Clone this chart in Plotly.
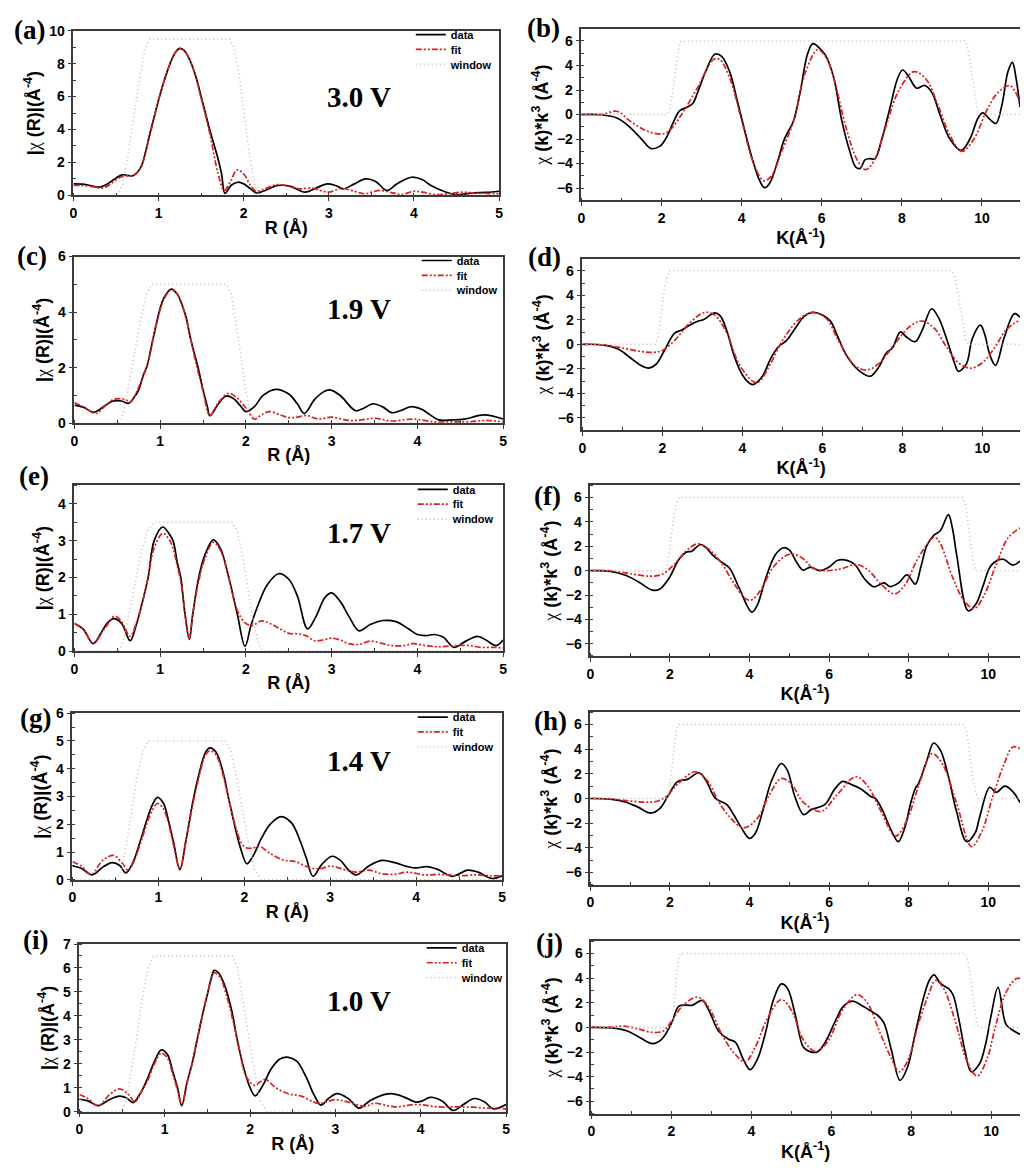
import plotly.graph_objects as go

# ---------------- data: R-space panels (a, c, e, g, i) ----------------
a_data_R = [0, 0.1, 0.2, 0.3, 0.4, 0.5, 0.57, 0.63, 0.7, 0.75, 0.8, 0.85, 0.9, 0.95, 1.0, 1.05, 1.1, 1.15, 1.2, 1.25, 1.3, 1.35, 1.4, 1.45, 1.5, 1.55, 1.6, 1.65, 1.7, 1.74, 1.78, 1.85, 1.93, 2.0, 2.08, 2.15, 2.25, 2.4, 2.55, 2.72, 2.85, 2.98, 3.08, 3.17, 3.3, 3.43, 3.55, 3.68, 3.8, 3.97, 4.1, 4.2, 4.35, 4.5, 4.7, 4.85, 5.0]
a_data = [0.7, 0.68, 0.6, 0.5, 0.7, 1.05, 1.25, 1.22, 1.2, 1.4, 1.8, 2.7, 3.8, 4.8, 5.8, 6.7, 7.5, 8.2, 8.7, 8.93, 8.8, 8.4, 7.8, 7.0, 6.0, 5.0, 4.0, 3.1, 2.2, 1.3, 0.12, 0.6, 0.8, 0.7, 0.4, 0.15, 0.3, 0.6, 0.55, 0.2, 0.45, 0.7, 0.6, 0.4, 0.7, 1.0, 0.85, 0.3, 0.7, 1.1, 0.95, 0.6, 0.25, 0.05, 0.15, 0.18, 0.25]
a_fit_R = [0, 0.1, 0.2, 0.35, 0.45, 0.55, 0.62, 0.7, 0.75, 0.8, 0.9, 1.0, 1.1, 1.2, 1.25, 1.3, 1.4, 1.5, 1.6, 1.7, 1.77, 1.85, 1.92, 2.0, 2.08, 2.15, 2.25, 2.38, 2.5, 2.65, 2.8, 2.9, 3.0, 3.15, 3.3, 3.42, 3.6, 3.75, 3.85, 4.0, 4.1, 4.25, 4.4, 4.55, 4.7, 4.85, 5.0]
a_fit = [0.6, 0.6, 0.55, 0.45, 0.75, 1.1, 1.18, 1.2, 1.4, 1.8, 3.7, 5.8, 7.5, 8.7, 8.9, 8.8, 7.8, 5.9, 3.8, 1.3, 0.3, 0.9, 1.55, 1.3, 0.6, 0.25, 0.4, 0.65, 0.6, 0.4, 0.45, 0.3, 0.2, 0.42, 0.25, 0.1, 0.3, 0.15, 0.05, 0.25, 0.2, 0.05, 0.1, 0.2, 0.15, 0.12, 0.1]
a_win_R = [0, 0.52, 0.58, 0.64, 0.71, 0.78, 0.84, 0.9, 1.83, 1.89, 1.95, 2.01, 2.07, 2.13, 2.18, 5]
a_win = [0, 0, 0.7, 2.4, 4.8, 7.2, 8.9, 9.5, 9.5, 8.9, 7.2, 4.8, 2.4, 0.7, 0, 0]

c_data_R = [0, 0.1, 0.23, 0.35, 0.45, 0.55, 0.63, 0.7, 0.75, 0.8, 0.85, 0.9, 0.95, 1.0, 1.05, 1.13, 1.2, 1.25, 1.3, 1.35, 1.4, 1.45, 1.5, 1.55, 1.58, 1.68, 1.77, 1.85, 1.93, 2.0, 2.1, 2.2, 2.35, 2.5, 2.6, 2.68, 2.8, 2.9, 2.98, 3.1, 3.28, 3.38, 3.48, 3.6, 3.7, 3.8, 3.93, 4.05, 4.15, 4.25, 4.4, 4.55, 4.78, 5.0]
c_data = [0.65, 0.58, 0.4, 0.62, 0.8, 0.8, 0.72, 0.95, 1.2, 1.7, 2.1, 2.8, 3.5, 4.15, 4.55, 4.83, 4.65, 4.3, 3.85, 3.1, 2.5, 1.9, 1.2, 0.6, 0.27, 0.7, 0.98, 0.9, 0.65, 0.42, 0.6, 1.0, 1.22, 1.05, 0.7, 0.35, 0.85, 1.12, 1.2, 1.0, 0.45, 0.55, 0.7, 0.58, 0.38, 0.45, 0.6, 0.5, 0.3, 0.12, 0.12, 0.15, 0.3, 0.15]
c_fit_R = [0, 0.1, 0.25, 0.35, 0.45, 0.55, 0.6, 0.65, 0.75, 0.85, 0.95, 1.05, 1.13, 1.2, 1.3, 1.4, 1.5, 1.58, 1.68, 1.8, 1.9, 2.0, 2.1, 2.18, 2.27, 2.4, 2.5, 2.6, 2.7, 2.85, 3.0, 3.2, 3.35, 3.5, 3.7, 3.95, 4.2, 4.4, 4.6, 4.8, 5.0]
c_fit = [0.75, 0.6, 0.35, 0.6, 0.85, 0.88, 0.85, 0.75, 1.3, 2.1, 3.5, 4.5, 4.8, 4.65, 3.8, 2.4, 1.15, 0.28, 0.75, 1.08, 0.9, 0.55, 0.15, 0.3, 0.42, 0.3, 0.2, 0.22, 0.28, 0.15, 0.22, 0.1, 0.12, 0.18, 0.08, 0.15, 0.05, 0.05, 0.05, 0.1, 0.05]
c_win_R = [0, 0.51, 0.57, 0.63, 0.7, 0.77, 0.84, 0.9, 1.77, 1.83, 1.88, 1.94, 1.99, 2.05, 2.1, 5]
c_win = [0, 0, 0.35, 1.3, 2.5, 3.7, 4.65, 5.0, 5.0, 4.65, 3.7, 2.5, 1.3, 0.35, 0, 0]

e_data_R = [0, 0.1, 0.22, 0.3, 0.38, 0.46, 0.55, 0.65, 0.72, 0.8, 0.86, 0.93, 1.03, 1.1, 1.15, 1.2, 1.24, 1.29, 1.34, 1.38, 1.45, 1.52, 1.62, 1.7, 1.8, 1.9, 1.99, 2.06, 2.15, 2.25, 2.38, 2.5, 2.6, 2.72, 2.82, 2.92, 3.0, 3.1, 3.2, 3.32, 3.45, 3.6, 3.75, 3.9, 4.0, 4.1, 4.2, 4.3, 4.43, 4.55, 4.7, 4.8, 4.92, 5.0]
e_data = [0.75, 0.6, 0.2, 0.45, 0.75, 0.88, 0.75, 0.28, 0.7, 1.4, 2.0, 3.0, 3.37, 3.2, 3.0, 2.4, 2.0, 1.0, 0.32, 1.0, 2.0, 2.6, 3.02, 2.8, 2.0, 1.0, 0.13, 0.7, 1.3, 1.8, 2.1, 1.95, 1.5, 0.6, 0.95, 1.45, 1.58, 1.35, 0.95, 0.55, 0.72, 0.83, 0.8, 0.6, 0.45, 0.42, 0.45, 0.38, 0.1, 0.25, 0.4, 0.3, 0.15, 0.3]
e_fit_R = [0, 0.1, 0.22, 0.35, 0.47, 0.55, 0.65, 0.72, 0.8, 0.86, 0.93, 1.03, 1.1, 1.15, 1.2, 1.24, 1.29, 1.34, 1.38, 1.45, 1.52, 1.62, 1.7, 1.8, 1.9, 2.0, 2.08, 2.18, 2.28, 2.4, 2.5, 2.6, 2.7, 2.8, 2.9, 3.0, 3.1, 3.2, 3.32, 3.45, 3.6, 3.7, 3.85, 3.95, 4.1, 4.2, 4.3, 4.45, 4.6, 4.75, 4.9, 5.0]
e_fit = [0.75, 0.6, 0.22, 0.6, 0.95, 0.8, 0.4, 0.75, 1.4, 2.0, 2.8, 3.2, 3.05, 2.8, 2.3, 1.9, 1.0, 0.35, 1.0, 1.9, 2.5, 2.95, 2.75, 2.0, 1.1, 0.75, 0.7, 0.82, 0.75, 0.6, 0.48, 0.47, 0.42, 0.28, 0.3, 0.35, 0.3, 0.2, 0.18, 0.27, 0.2, 0.15, 0.15, 0.2, 0.15, 0.12, 0.12, 0.15, 0.15, 0.1, 0.1, 0.08]
e_win_R = [0, 0.51, 0.57, 0.63, 0.7, 0.77, 0.85, 0.93, 1.84, 1.9, 1.96, 2.02, 2.08, 2.14, 2.19, 5]
e_win = [0, 0, 0.25, 0.9, 1.75, 2.6, 3.25, 3.5, 3.5, 3.25, 2.6, 1.75, 0.9, 0.25, 0, 0]

g_data_R = [0, 0.1, 0.23, 0.35, 0.46, 0.55, 0.62, 0.7, 0.8, 0.86, 0.93, 0.99, 1.06, 1.12, 1.18, 1.25, 1.32, 1.4, 1.48, 1.55, 1.6, 1.67, 1.75, 1.82, 1.9, 1.96, 2.03, 2.1, 2.2, 2.3, 2.43, 2.55, 2.65, 2.72, 2.8, 2.9, 3.02, 3.12, 3.2, 3.3, 3.45, 3.6, 3.75, 3.9, 4.0, 4.12, 4.25, 4.42, 4.6, 4.72, 4.88, 5.0]
g_data = [0.5, 0.42, 0.18, 0.45, 0.62, 0.52, 0.25, 0.6, 1.5, 2.1, 2.7, 2.97, 2.75, 2.1, 1.3, 0.37, 1.4, 2.8, 3.9, 4.6, 4.75, 4.6, 3.9, 2.9, 1.8, 1.1, 0.58, 0.85, 1.5, 2.0, 2.28, 2.05, 1.4, 0.8, 0.13, 0.55, 0.85, 0.7, 0.4, 0.18, 0.5, 0.7, 0.62, 0.48, 0.43, 0.48, 0.38, 0.13, 0.35, 0.28, 0.05, 0.15]
g_fit_R = [0, 0.1, 0.22, 0.35, 0.48, 0.58, 0.65, 0.72, 0.8, 0.9, 0.99, 1.06, 1.12, 1.18, 1.25, 1.32, 1.4, 1.48, 1.55, 1.6, 1.67, 1.75, 1.82, 1.9, 1.97, 2.03, 2.1, 2.18, 2.3, 2.45, 2.6, 2.75, 2.88, 3.0, 3.15, 3.3, 3.45, 3.6, 3.75, 3.9, 4.1, 4.3, 4.5, 4.7, 4.85, 5.0]
g_fit = [0.65, 0.5, 0.2, 0.7, 0.88, 0.6, 0.35, 0.7, 1.4, 2.3, 2.75, 2.55, 2.0, 1.2, 0.4, 1.4, 2.7, 3.8, 4.5, 4.65, 4.5, 3.8, 2.9, 1.9, 1.3, 1.15, 1.15, 1.2, 0.95, 0.72, 0.65, 0.45, 0.4, 0.5, 0.38, 0.28, 0.35, 0.22, 0.2, 0.28, 0.18, 0.2, 0.15, 0.18, 0.15, 0.15]
g_win_R = [0, 0.51, 0.57, 0.63, 0.69, 0.75, 0.82, 0.88, 1.78, 1.84, 1.91, 1.98, 2.05, 2.12, 2.2, 5]
g_win = [0, 0, 0.35, 1.3, 2.5, 3.7, 4.65, 5.0, 5.0, 4.65, 3.7, 2.5, 1.3, 0.35, 0, 0]

i_data_R = [0, 0.1, 0.22, 0.35, 0.47, 0.55, 0.63, 0.72, 0.8, 0.88, 0.96, 1.03, 1.1, 1.15, 1.2, 1.26, 1.32, 1.38, 1.44, 1.5, 1.54, 1.58, 1.63, 1.7, 1.78, 1.85, 1.92, 2.0, 2.06, 2.15, 2.25, 2.35, 2.45, 2.55, 2.65, 2.75, 2.83, 2.92, 3.02, 3.15, 3.28, 3.4, 3.52, 3.65, 3.8, 3.94, 4.02, 4.11, 4.25, 4.38, 4.5, 4.63, 4.75, 4.85, 5.0]
i_data = [0.52, 0.45, 0.25, 0.5, 0.65, 0.58, 0.38, 0.8, 1.4, 2.1, 2.58, 2.4, 1.6, 1.0, 0.25, 1.2, 2.0, 3.0, 4.0, 4.9, 5.5, 5.9, 5.8, 5.3, 4.3, 3.0, 1.9, 1.0, 0.66, 1.1, 1.8, 2.2, 2.27, 2.1, 1.5, 0.7, 0.27, 0.55, 0.75, 0.55, 0.15, 0.45, 0.65, 0.75, 0.62, 0.4, 0.45, 0.6, 0.45, 0.05, 0.3, 0.55, 0.4, 0.12, 0.3]
i_fit_R = [0, 0.1, 0.22, 0.35, 0.47, 0.58, 0.65, 0.72, 0.8, 0.88, 0.96, 1.03, 1.1, 1.15, 1.2, 1.26, 1.32, 1.38, 1.44, 1.5, 1.58, 1.65, 1.72, 1.8, 1.88, 1.95, 2.05, 2.12, 2.18, 2.3, 2.45, 2.6, 2.8, 3.0, 3.15, 3.35, 3.45, 3.7, 3.95, 4.2, 4.5, 4.8, 5.0]
i_fit = [0.72, 0.55, 0.25, 0.7, 0.95, 0.7, 0.4, 0.8, 1.3, 2.0, 2.45, 2.25, 1.5, 0.9, 0.25, 1.2, 2.0, 3.0, 4.0, 4.9, 5.8, 5.6, 4.9, 3.8, 2.5, 1.5, 1.1, 1.25, 1.35, 1.0, 0.75, 0.65, 0.35, 0.5, 0.4, 0.22, 0.35, 0.2, 0.3, 0.2, 0.2, 0.15, 0.12]
i_win_R = [0, 0.49, 0.55, 0.61, 0.68, 0.74, 0.81, 0.87, 1.79, 1.85, 1.91, 1.98, 2.05, 2.12, 2.2, 5]
i_win = [0, 0, 0.45, 1.7, 3.25, 4.8, 6.05, 6.5, 6.5, 6.05, 4.8, 3.25, 1.7, 0.45, 0, 0]

# ---------------- data: k-space panels (b, d, f, h, j) ----------------
b_data_K = [0, 0.5, 0.9, 1.2, 1.5, 1.73, 1.95, 2.1, 2.3, 2.45, 2.64, 2.78, 2.9, 3.1, 3.33, 3.5, 3.7, 3.9, 4.1, 4.3, 4.45, 4.57, 4.7, 4.9, 5.06, 5.3, 5.47, 5.65, 5.78, 5.95, 6.1, 6.3, 6.5, 6.7, 6.85, 6.96, 7.08, 7.2, 7.33, 7.5, 7.7, 7.9, 8.02, 8.15, 8.37, 8.57, 8.75, 8.95, 9.2, 9.48, 9.7, 9.9, 10.02, 10.2, 10.35, 10.5, 10.65, 10.76, 10.85, 10.95]
b_data = [0, -0.02, -0.3, -1.0, -2.0, -2.77, -2.6, -2.0, -0.6, 0.3, 0.6, 0.9, 1.8, 3.5, 4.92, 4.75, 3.5, 1.0, -1.6, -4.0, -5.4, -5.97, -5.6, -3.8, -2.07, -0.46, 2.0, 5.0, 5.78, 5.4, 4.8, 3.0, -0.5, -3.0, -4.3, -4.4, -3.7, -3.6, -3.6, -2.0, 0.5, 3.0, 3.63, 3.2, 2.15, 2.37, 1.8, 0.0, -2.0, -2.93, -2.0, -0.3, 0.13, -0.4, -0.73, 0.8, 3.5, 4.25, 3.0, 0.6]
b_fit_K = [0, 0.5, 0.9, 1.2, 1.6, 2.0, 2.2, 2.5, 2.9, 3.3, 3.45, 3.7, 4.0, 4.3, 4.55, 4.75, 5.0, 5.3, 5.6, 5.9, 6.1, 6.3, 6.6, 6.9, 7.1, 7.3, 7.6, 7.9, 8.3, 8.6, 8.9, 9.2, 9.5, 9.8, 10.1, 10.4, 10.7, 10.95]
b_fit = [0, 0.02, 0.25, -0.5, -1.3, -1.6, -1.3, 0.0, 2.2, 4.5, 4.5, 3.0, -0.5, -4.0, -5.4, -5.0, -3.0, -0.5, 3.5, 5.3, 4.7, 3.0, -1.0, -3.8, -4.5, -3.8, -1.0, 1.8, 3.5, 2.9, 0.8, -1.7, -3.0, -2.0, 0.2, 1.8, 2.35, 1.0]
b_win_K = [0, 2.15, 2.2, 2.26, 2.32, 2.38, 2.44, 2.48, 9.58, 9.63, 9.7, 9.76, 9.82, 9.88, 9.93, 10.95]
b_win = [0, 0, 0.4, 1.5, 3.0, 4.5, 5.6, 6, 6, 5.6, 4.5, 3.0, 1.5, 0.4, 0, 0]

d_data_K = [0, 0.5, 0.9, 1.2, 1.45, 1.66, 1.85, 2.05, 2.3, 2.48, 2.7, 2.9, 3.02, 3.31, 3.45, 3.6, 3.8, 4.0, 4.15, 4.26, 4.5, 4.7, 4.9, 5.1, 5.3, 5.55, 5.75, 6.0, 6.2, 6.4, 6.6, 6.9, 7.2, 7.4, 7.6, 7.75, 7.95, 8.1, 8.32, 8.5, 8.73, 8.9, 9.1, 9.3, 9.4, 9.6, 9.75, 9.95, 10.05, 10.2, 10.33, 10.55, 10.8, 10.94]
d_data = [0, -0.05, -0.4, -1.1, -1.7, -1.94, -1.6, -0.5, 0.9, 1.16, 1.6, 1.9, 2.0, 2.56, 2.3, 1.2, -1.0, -2.5, -3.1, -3.28, -2.6, -1.2, -0.2, 0.3, 1.2, 2.3, 2.6, 2.4, 1.9, 0.5, -0.9, -2.1, -2.6, -1.9, -0.7, -0.3, 1.02, 0.6, 0.22, 1.2, 2.9, 2.2, 0.5, -1.5, -2.2, -1.6, 0.5, 1.56, 0.9, -1.0, -1.72, 0.6, 2.5, 2.2]
d_fit_K = [0, 0.5, 1.0, 1.5, 1.8, 2.0, 2.3, 2.7, 3.05, 3.3, 3.6, 3.9, 4.25, 4.4, 4.7, 5.0, 5.4, 5.75, 6.1, 6.4, 6.8, 7.1, 7.4, 7.8, 8.2, 8.5, 8.8, 9.1, 9.4, 9.7, 10.0, 10.3, 10.6, 10.94]
d_fit = [0, -0.05, -0.3, -0.6, -0.65, -0.5, 0.3, 1.8, 2.6, 2.4, 1.0, -1.5, -3.0, -3.1, -1.6, 0.3, 2.0, 2.6, 2.1, 0.3, -1.7, -2.1, -1.6, 0.0, 1.5, 1.9, 1.3, -0.2, -1.5, -1.95, -1.5, -0.3, 1.2, 2.0]
d_win_K = [0, 1.82, 1.88, 1.93, 1.99, 2.05, 2.12, 2.19, 9.23, 9.3, 9.37, 9.44, 9.51, 9.58, 9.66, 10.94]
d_win = [0, 0, 0.4, 1.5, 3.0, 4.5, 5.6, 6, 6, 5.6, 4.5, 3.0, 1.5, 0.4, 0, 0]

f_data_K = [0, 0.5, 0.9, 1.2, 1.56, 1.75, 2.0, 2.2, 2.4, 2.55, 2.77, 2.9, 3.1, 3.3, 3.5, 3.75, 4.06, 4.2, 4.4, 4.65, 4.85, 5.0, 5.2, 5.35, 5.53, 5.76, 6.0, 6.22, 6.47, 6.65, 6.9, 7.13, 7.38, 7.53, 7.75, 7.96, 8.17, 8.3, 8.46, 8.63, 8.8, 9.0, 9.1, 9.21, 9.5, 9.7, 9.88, 10.08, 10.37, 10.62, 10.8]
f_data = [0, -0.05, -0.4, -0.9, -1.6, -1.5, -0.5, 0.8, 1.5, 1.6, 2.15, 1.9, 1.2, 0.7, 0.2, -1.5, -3.4, -2.8, -0.7, 1.3, 1.88, 1.7, 0.6, 0.05, 0.3, 0.0, 0.3, 0.86, 0.83, 0.5, -0.7, -1.32, -1.0, -1.3, -1.0, -0.35, -1.1, 0.2, 2.07, 2.9, 3.3, 4.6, 3.5, 1.26, -3.3, -2.7, -1.16, 0.46, 0.94, 0.46, 0.78]
f_fit_K = [0, 0.5, 1.0, 1.5, 1.8, 2.1, 2.4, 2.7, 3.0, 3.3, 3.6, 3.9, 4.05, 4.3, 4.6, 5.0, 5.3, 5.6, 5.9, 6.3, 6.7, 7.0, 7.3, 7.65, 7.9, 8.2, 8.5, 8.65, 8.8, 9.1, 9.4, 9.65, 9.9, 10.2, 10.5, 10.8]
f_fit = [0, 0.0, -0.25, -0.45, -0.3, 0.5, 1.6, 2.2, 1.7, 0.6, -1.0, -2.3, -2.4, -1.5, 0.3, 1.35, 1.1, 0.2, 0.0, 0.15, 0.5, 0.0, -1.1, -1.9, -1.2, 0.8, 2.3, 2.75, 2.2, -0.5, -2.5, -3.1, -2.0, 0.5, 2.7, 3.5]
f_win_K = [0, 1.87, 1.92, 1.98, 2.04, 2.1, 2.17, 2.23, 9.36, 9.41, 9.47, 9.53, 9.58, 9.64, 9.7, 10.8]
f_win = [0, 0, 0.4, 1.5, 3.0, 4.5, 5.6, 6, 6, 5.6, 4.5, 3.0, 1.5, 0.4, 0, 0]

h_data_K = [0, 0.5, 0.9, 1.2, 1.52, 1.75, 1.95, 2.19, 2.44, 2.73, 2.9, 3.14, 3.43, 3.6, 3.8, 4.0, 4.15, 4.35, 4.55, 4.8, 4.95, 5.14, 5.36, 5.55, 5.89, 6.13, 6.34, 6.55, 6.8, 7.05, 7.17, 7.35, 7.55, 7.74, 7.9, 8.05, 8.17, 8.25, 8.45, 8.63, 8.8, 9.0, 9.2, 9.46, 9.67, 9.79, 10.04, 10.2, 10.42, 10.62, 10.8]
h_data = [0, -0.05, -0.3, -0.7, -1.18, -0.8, 0.2, 1.37, 1.55, 2.09, 1.5, 0.03, -0.5, -1.3, -2.4, -3.24, -2.8, -0.8, 1.4, 2.84, 2.3, 0.16, -1.31, -0.9, -0.5, 0.7, 1.39, 1.15, 0.78, 0.16, 0.0, -1.0, -2.5, -3.5, -2.4, -0.4, 0.83, 1.23, 3.0, 4.5, 3.9, 1.8, -1.0, -3.5, -2.8, -1.45, 0.91, 0.5, 1.0, 0.56, -0.32]
h_fit_K = [0, 0.5, 1.0, 1.4, 1.7, 1.95, 2.2, 2.64, 2.95, 3.2, 3.5, 3.85, 4.2, 4.5, 4.8, 5.05, 5.35, 5.8, 6.2, 6.67, 6.95, 7.3, 7.67, 7.95, 8.25, 8.59, 8.85, 9.2, 9.58, 9.85, 10.1, 10.4, 10.62, 10.8]
h_fit = [0, -0.02, -0.2, -0.3, -0.2, 0.3, 1.2, 2.17, 1.4, -0.1, -1.5, -2.38, -1.6, 0.3, 1.63, 1.2, -0.3, -1.05, 0.3, 1.77, 1.1, -1.0, -3.05, -1.8, 1.0, 3.64, 2.8, -0.3, -3.9, -2.6, 0.0, 2.8, 4.18, 4.05]
h_win_K = [0, 1.92, 1.97, 2.02, 2.07, 2.12, 2.17, 2.21, 9.38, 9.44, 9.5, 9.56, 9.62, 9.69, 9.75, 10.8]
h_win = [0, 0, 0.4, 1.5, 3.0, 4.5, 5.6, 6, 6, 5.6, 4.5, 3.0, 1.5, 0.4, 0, 0]

j_data_K = [0, 0.5, 0.9, 1.2, 1.53, 1.75, 2.0, 2.19, 2.4, 2.52, 2.77, 2.95, 3.18, 3.43, 3.6, 3.8, 3.97, 4.15, 4.35, 4.55, 4.75, 4.9, 5.1, 5.3, 5.45, 5.65, 5.85, 6.1, 6.3, 6.53, 6.75, 6.95, 7.15, 7.31, 7.5, 7.72, 7.9, 8.1, 8.3, 8.45, 8.57, 8.7, 8.8, 8.95, 9.05, 9.2, 9.35, 9.5, 9.7, 9.85, 10.0, 10.17, 10.37, 10.54, 10.72]
j_data = [0, -0.05, -0.3, -0.8, -1.32, -1.0, 0.3, 1.72, 1.8, 1.78, 2.18, 1.3, -0.3, -0.97, -1.2, -2.6, -3.44, -2.6, -0.5, 2.2, 3.52, 3.2, 1.0, -1.6, -1.95, -2.0, -1.2, 0.5, 1.7, 2.12, 1.8, 1.4, 1.0, 0.4, -1.8, -4.3, -3.3, -0.5, 2.3, 3.8, 4.25, 3.7, 3.4, 3.1, 2.6, 0.5, -2.0, -3.6, -3.0, -1.5, 1.0, 3.25, 0.24, -0.24, -0.56]
j_fit_K = [0, 0.5, 0.8, 1.2, 1.5, 1.8, 2.0, 2.3, 2.65, 2.9, 3.3, 3.6, 3.85, 4.1, 4.4, 4.75, 5.0, 5.3, 5.6, 5.9, 6.3, 6.65, 6.9, 7.2, 7.5, 7.7, 7.9, 8.2, 8.45, 8.6, 8.8, 9.1, 9.4, 9.65, 9.9, 10.1, 10.35, 10.6, 10.72]
j_fit = [0, 0.02, 0.1, -0.15, -0.4, -0.3, 0.5, 1.8, 2.45, 1.8, -0.8, -2.2, -2.8, -1.6, 0.7, 2.25, 1.4, -1.0, -1.95, -1.2, 1.5, 2.65, 2.0, -0.3, -2.5, -3.6, -2.8, 0.5, 2.8, 3.8, 3.2, 0.5, -2.8, -3.95, -2.5, 0.0, 2.7, 3.9, 4.0]
j_win_K = [0, 1.98, 2.02, 2.06, 2.1, 2.14, 2.19, 2.23, 9.34, 9.4, 9.46, 9.52, 9.58, 9.64, 9.69, 10.72]
j_win = [0, 0, 0.4, 1.5, 3.0, 4.5, 5.6, 6, 6, 5.6, 4.5, 3.0, 1.5, 0.4, 0, 0]

voltages = ["3.0 V", "1.9 V", "1.7 V", "1.4 V", "1.0 V"]
left_letters = ["(a)", "(c)", "(e)", "(g)", "(i)"]
right_letters = ["(b)", "(d)", "(f)", "(h)", "(j)"]
series_names = ["data", "fit", "window"]

# ---------------- layout / style ----------------
W, H = 1024, 1168
SANS = "Liberation Sans, Arial, sans-serif"
SERIF = "Liberation Serif, Times New Roman, serif"
AX = "#3a3a3a"
RED = "#dd1f1f"
WINC = "#c9bcbc"
FITDASH = "6px,2px,2px,2px,2px,2px"

left_sets = [
    (a_data_R, a_data, a_fit_R, a_fit, a_win_R, a_win),
    (c_data_R, c_data, c_fit_R, c_fit, c_win_R, c_win),
    (e_data_R, e_data, e_fit_R, e_fit, e_win_R, e_win),
    (g_data_R, g_data, g_fit_R, g_fit, g_win_R, g_win),
    (i_data_R, i_data, i_fit_R, i_fit, i_win_R, i_win),
]
right_sets = [
    (b_data_K, b_data, b_fit_K, b_fit, b_win_K, b_win),
    (d_data_K, d_data, d_fit_K, d_fit, d_win_K, d_win),
    (f_data_K, f_data, f_fit_K, f_fit, f_win_K, f_win),
    (h_data_K, h_data, h_fit_K, h_fit, h_win_K, h_win),
    (j_data_K, j_data, j_fit_K, j_fit, j_win_K, j_win),
]

# pixel geometry of each panel (x0, x1, y0, y1)
left_px = [(70, 499, 23, 190), (71, 503, 252, 421), (71, 503, 484, 652), (69, 502, 715, 884), (76, 506, 949, 1119)]
right_px = [(582, 1024, 21, 195), (583, 1024, 254, 428), (591, 1024, 484, 657), (591, 1024, 714, 889), (592, 1024, 946, 1121)]
left_yrange = [(0, 10, 2, 1), (0, 6, 2, 1), (0, 4.5, 1, 0.5), (0, 6, 1, 0.5), (0, 7, 1, 0.5)]
right_xmax = [10.95, 10.94, 10.8, 10.8, 10.72]
volt_pos = [(0.671, 0.60), (0.664, 0.686), (0.664, 0.714), (0.667, 0.716), (0.656, 0.659)]
left_lab_px = [(26, 22), (28, 251), (30, 474), (32, 720), (32, 945)]
right_lab_px = [(544, 20), (545, 252), (548, 495), (551, 723), (550, 948)]
legend_text_x = [452, 458, 454, 454, 463]
legend_row_dy = [4, 19, 34]

tickfont = dict(family=SANS, size=14, color="black", weight="bold")
titlefont = dict(family=SANS, size=18, color="black", weight="bold")
chi = "<span style='font-family:Liberation Serif;font-weight:normal'>χ</span>"

fig = go.Figure()
layout = dict(width=W, height=H, margin=dict(l=0, r=0, t=0, b=0),
              paper_bgcolor="white", plot_bgcolor="white", showlegend=True)
annotations = []


def axis_common():
    return dict(showline=True, linecolor=AX, linewidth=1.5, ticks="outside", ticklen=4,
                tickwidth=1.2, tickcolor=AX, showgrid=False, zeroline=False,
                tickfont=tickfont)


def dom_x(x0, x1):
    return [x0 / W, x1 / W]


def dom_y(y0, y1):
    return [1 - y1 / H, 1 - y0 / H]


def styles():
    return [
        (dict(color="black", width=1.7), "spline"),
        (dict(color=RED, width=1.7, dash=FITDASH), "spline"),
        (dict(color=WINC, width=1.6, dash="1px,3px"), "linear"),
    ]


n = 0
for idx in range(5):
    for side in ("L", "R"):
        n += 1
        xa = "x" if n == 1 else f"x{n}"
        ya = "y" if n == 1 else f"y{n}"
        xkey = "xaxis" if n == 1 else f"xaxis{n}"
        ykey = "yaxis" if n == 1 else f"yaxis{n}"
        if side == "L":
            dx, dy, fx, fy, wx, wy = left_sets[idx]
            x0, x1, y0, y1 = left_px[idx]
            for k, ((tx, ty), (ln, shp), nm) in enumerate(zip([(dx, dy), (fx, fy), (wx, wy)], styles(), series_names)):
                num = idx * 3 + k + 1
                lg = "legend" if num == 1 else f"legend{num}"
                fig.add_trace(go.Scatter(x=tx, y=ty, mode="lines", name=nm, line=dict(shape=shp, **ln),
                                         xaxis=xa, yaxis=ya, legend=lg, showlegend=True))
                layout[lg] = dict(x=(legend_text_x[idx] - 42) / W, xanchor="left",
                                  y=1 - (y0 + legend_row_dy[k]) / H, yanchor="middle",
                                  bgcolor="rgba(0,0,0,0)", borderwidth=0, itemwidth=30,
                                  font=dict(family=SANS, size=11, color="black", weight="bold"))
            xd = axis_common()
            xd.update(domain=dom_x(x0, x1), anchor=ya, range=[0, 5], dtick=1, tick0=0, mirror=True,
                      minor=dict(ticks="inside", ticklen=3, dtick=0.5, tickcolor=AX, tickwidth=1),
                      title=dict(text="R (Å)", font=titlefont, standoff=1))
            yr = left_yrange[idx]
            yd = axis_common()
            yd.update(domain=dom_y(y0, y1), anchor=xa, range=[yr[0], yr[1]], dtick=yr[2], tick0=0, mirror=True,
                      minor=dict(ticks="inside", ticklen=3, dtick=yr[3], tickcolor=AX, tickwidth=1),
                      title=dict(text="|" + chi + " (R)|(Å<sup>-4</sup>)", font=titlefont, standoff=4))
            layout[xkey] = xd
            layout[ykey] = yd
            vx, vy = volt_pos[idx]
            annotations.append(dict(text="<b>" + voltages[idx] + "</b>", xref=f"{xa} domain", yref=f"{ya} domain",
                                    x=vx, y=vy, xanchor="center", yanchor="middle", showarrow=False,
                                    font=dict(family=SERIF, size=29, color="black")))
            lx, ly = left_lab_px[idx]
            annotations.append(dict(text="<b>" + left_letters[idx] + "</b>", xref="paper", yref="paper",
                                    x=lx / W, y=1 - ly / H, xanchor="center", yanchor="middle", showarrow=False,
                                    font=dict(family=SERIF, size=27, color="black")))
        else:
            dx, dy, fx, fy, wx, wy = right_sets[idx]
            x0, x1, y0, y1 = right_px[idx]
            for (tx, ty), (ln, shp), nm in zip([(dx, dy), (fx, fy), (wx, wy)], styles(), series_names):
                fig.add_trace(go.Scatter(x=tx, y=ty, mode="lines", name=nm, line=dict(shape=shp, **ln),
                                         xaxis=xa, yaxis=ya, showlegend=False))
            xd = axis_common()
            xd.update(domain=dom_x(x0, x1), anchor=ya, range=[0, right_xmax[idx]], dtick=2, tick0=0, mirror=True,
                      minor=dict(ticks="inside", ticklen=3, dtick=1, tickcolor=AX, tickwidth=1),
                      title=dict(text="K(Å<sup>-1</sup>)", font=titlefont, standoff=0))
            yd = axis_common()
            yd.update(domain=dom_y(y0, y1), anchor=xa, range=[-7, 7], dtick=2, tick0=0, mirror=False,
                      minor=dict(ticks="inside", ticklen=3, dtick=1, tickcolor=AX, tickwidth=1),
                      title=dict(text=chi + " (k)*k<sup>3</sup> (Å<sup>-4</sup>)", font=titlefont, standoff=4))
            layout[xkey] = xd
            layout[ykey] = yd
            lx, ly = right_lab_px[idx]
            annotations.append(dict(text="<b>" + right_letters[idx] + "</b>", xref="paper", yref="paper",
                                    x=lx / W, y=1 - ly / H, xanchor="center", yanchor="middle", showarrow=False,
                                    font=dict(family=SERIF, size=27, color="black")))

layout["annotations"] = annotations
fig.update_layout(**layout)
fig.write_html("out.html")
